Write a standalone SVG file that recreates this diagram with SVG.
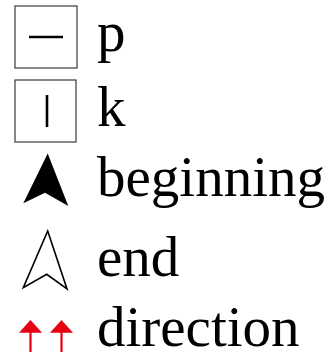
<svg xmlns="http://www.w3.org/2000/svg" width="331" height="357" viewBox="0 0 331 357">
<style>
.lbl{font-family:"Liberation Serif","Times New Roman",serif;font-size:57px;fill:#000}
.box{fill:#fff;stroke:#3a3a3a;stroke-width:1.2}
.mark{stroke:#000;stroke-width:2.6}
.red{fill:#e60012;stroke:none}
.redl{stroke:#e60012;stroke-width:2.2}
</style>
<rect width="331" height="357" fill="#fff"/>
<g id="p">
<rect class="box" x="15" y="6" width="62" height="62"/>
<line class="mark" x1="29" y1="37" x2="63" y2="37"/>
<text class="lbl" x="97" y="51">p</text>
</g>
<g id="k">
<rect class="box" x="15" y="80" width="61" height="62"/>
<line class="mark" x1="47" y1="95" x2="47" y2="127"/>
<text class="lbl" x="97" y="126">k</text>
</g>
<g id="beginning">
<polygon points="47.7,153.5 68.3,206 45,192.7 23.3,203.3" fill="#000"/>
<text class="lbl" x="97" y="196">beginning</text>
</g>
<g id="end">
<polygon points="47.7,231 67,289 46.7,274.3 23.3,287.7" fill="none" stroke="#000" stroke-width="1.6"/>
<text class="lbl" x="97" y="276">end</text>
</g>
<g id="direction">
<polygon class="red" points="30.5,320 42,332.7 19,332.7"/>
<line class="redl" x1="30.5" y1="332" x2="30.5" y2="352"/>
<polygon class="red" points="61.5,320 73,332.7 50,332.7"/>
<line class="redl" x1="61.5" y1="332" x2="61.5" y2="352"/>
<text class="lbl" x="97" y="346">direction</text>
</g>
<g id="connectors"></g>
</svg>
